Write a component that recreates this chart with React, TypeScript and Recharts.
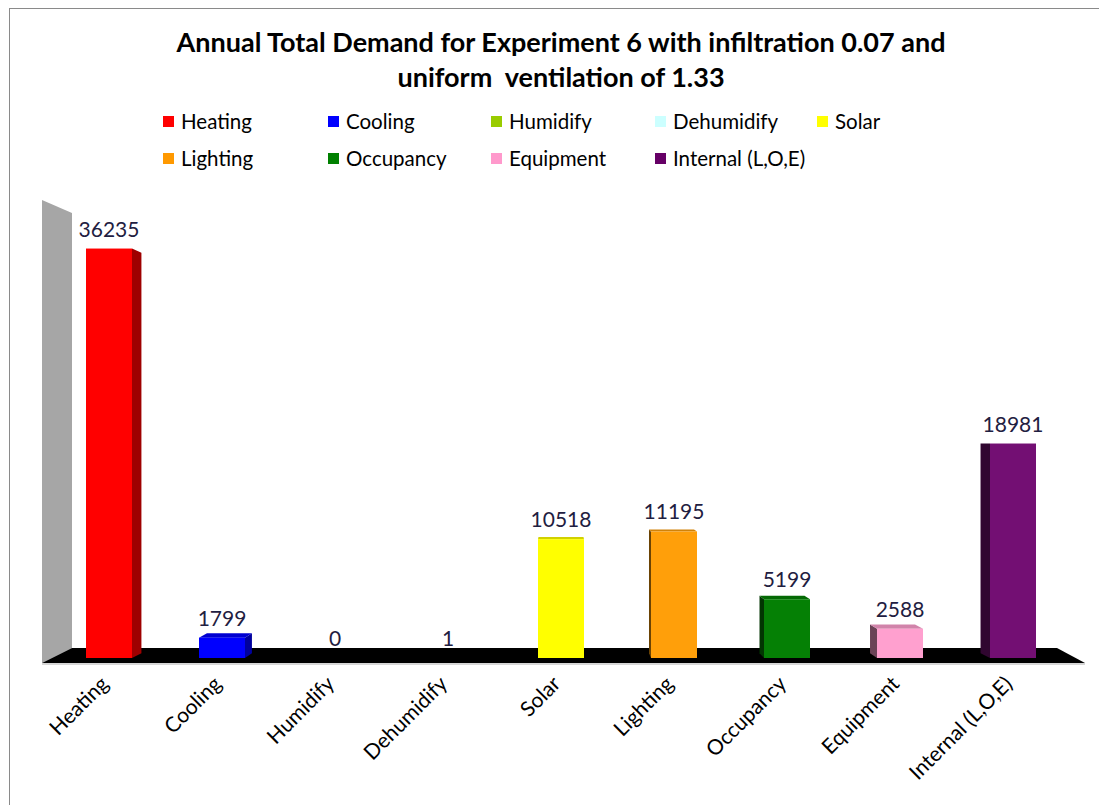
import { BarChart, Bar, XAxis, YAxis, Cell, LabelList, ReferenceArea } from 'recharts';

const categories = ['Heating', 'Cooling', 'Humidify', 'Dehumidify', 'Solar', 'Lighting', 'Occupancy', 'Equipment', 'Internal (L,O,E)'];
const demand = [36235, 1799, 0, 1, 10518, 11195, 5199, 2588, 18981];
const palette = ['#FF0000', '#0000FF', '#99CC00', '#CCFFFF', '#FFFF00', '#FF9900', '#008000', '#FF99CC', '#660066'];
const barColors = ['#FF0000', '#0000FF', '#99CC00', '#CCFFFF', '#FFFF00', '#FF9F0A', '#058005', '#FFA0CF', '#730F73'];
const titleLines = ['Annual Total Demand for Experiment 6 with infiltration 0.07 and', 'uniform  ventilation of 1.33'];

const FONT = 'Lato, "Open Sans", sans-serif';

// vanishing point (svg coords) and depth factor for the fake 3d bars
const VX = 550;
const VY = 431;
const K = 0.022;

const shade = (hex: string, f: number) => {
  const n = parseInt(hex.slice(1), 16);
  const r = Math.round(((n >> 16) & 255) * f);
  const g = Math.round(((n >> 8) & 255) * f);
  const b = Math.round((n & 255) * f);
  return `rgb(${r},${g},${b})`;
};

const back = (px: number, py: number) => [px + (VX - px) * K, py + (VY - py) * K];
const pts = (arr: number[][]) => arr.map(p => p.join(',')).join(' ');

const Bar3D = (props: any) => {
  const { x, y, width, height, payload } = props;
  if (!height || height < 0.5) return null;
  const color = payload.color;
  const l = x, r = x + width, t = y, b = y + height;
  const parts = [];
  if (r < VX) {
    parts.push(<polygon key="s" points={pts([[r, t], back(r, t), back(r, b), [r, b]])} fill={shade(color, 0.62)} />);
  } else if (l > VX) {
    parts.push(<polygon key="s" points={pts([[l, t], back(l, t), back(l, b), [l, b]])} fill={shade(color, 0.42)} />);
  }
  if (t > VY) {
    parts.push(<polygon key="t" points={pts([[l, t], [r, t], back(r, t), back(l, t)])} fill={shade(color, 0.82)} />);
  }
  return (
    <g>
      {parts}
      <rect x={l} y={t} width={width} height={height} fill={color} />
    </g>
  );
};

const WallFloor = (props: any) => {
  const { x, y, width, height } = props;
  const L = x, R = x + width, T = y, B = y + height;
  return (
    <g>
      <polygon points={pts([[L - 10, T - 6], [L + 20, T + 7], [L + 20, B - 10], [L - 10, B + 5]])} fill="#A6A6A6" />
      <polygon points={pts([[L - 10, B + 5], [R + 16, B + 5], [R - 12, B - 10], [L + 20, B - 10]])} fill="#000000" />
      <line x1={L - 10} y1={B + 6} x2={R + 16} y2={B + 6} stroke="#C8C8C8" strokeWidth={1.5} />
    </g>
  );
};

const AxisTick = (props: any) => {
  const { x, y, payload } = props;
  const tx = x - 4;
  const ty = y + 14;
  return (
    <text x={tx} y={ty} transform={`rotate(-45, ${tx}, ${ty})`} textAnchor="end" dy="0.35em"
      fontFamily={FONT} fontSize={21} fill="#000">
      {payload.value}
    </text>
  );
};

const ValueLabel = (props: any) => {
  const { x, y, width, value } = props;
  return (
    <text x={x + width / 2} y={y - 12} textAnchor="middle" fontFamily={FONT} fontSize={21} fill="#1F2041">
      {value}
    </text>
  );
};

const legendCols = [163, 328, 491, 655, 817];
const legendRows = [121, 158];

export default function App() {
  const data = categories.map((name, i) => ({ name, value: demand[i], color: barColors[i] }));

  return (
    <div style={{ position: 'relative', width: 1097, height: 796, marginLeft: 1, borderTop: '1px solid #8A8A8A', borderLeft: '1px solid #8A8A8A', background: '#fff', fontFamily: FONT }}>
      <div style={{ position: 'absolute', left: 0, top: 0, width: 1102, textAlign: 'center', fontWeight: 700, fontSize: 27, lineHeight: '35px', paddingTop: 15, color: '#000' }}>
        {titleLines.map(t => <div key={t} style={{ whiteSpace: 'pre' }}>{t}</div>)}
      </div>
      {categories.map((c, i) => {
        const col = legendCols[i % 5] - 10;
        const row = legendRows[Math.floor(i / 5)] - 9;
        return (
          <div key={c} style={{ position: 'absolute', left: col, top: row - 12, height: 24, display: 'flex', alignItems: 'center', fontSize: 20.5, whiteSpace: 'nowrap' }}>
            <span style={{ display: 'inline-block', width: 11, height: 11, background: palette[i], marginRight: 7 }} />
            {c}
          </div>
        );
      })}
      <div style={{ position: 'absolute', left: 0, top: 0 }}>
        <BarChart width={1097} height={796} data={data} margin={{ top: 197, right: 38, bottom: 117, left: 42 }} barCategoryGap={0}>
          <ReferenceArea y1={0} y2={40000} ifOverflow="visible" shape={<WallFloor />} />
          <XAxis dataKey="name" axisLine={false} tickLine={false} interval={0} tick={<AxisTick />} height={30} />
          <YAxis hide domain={[0, 40000]} />
          <Bar dataKey="value" barSize={46} shape={<Bar3D />} isAnimationActive={false}>
            {data.map(d => <Cell key={d.name} fill={d.color} />)}
            <LabelList dataKey="value" content={<ValueLabel />} />
          </Bar>
        </BarChart>
      </div>
    </div>
  );
}
